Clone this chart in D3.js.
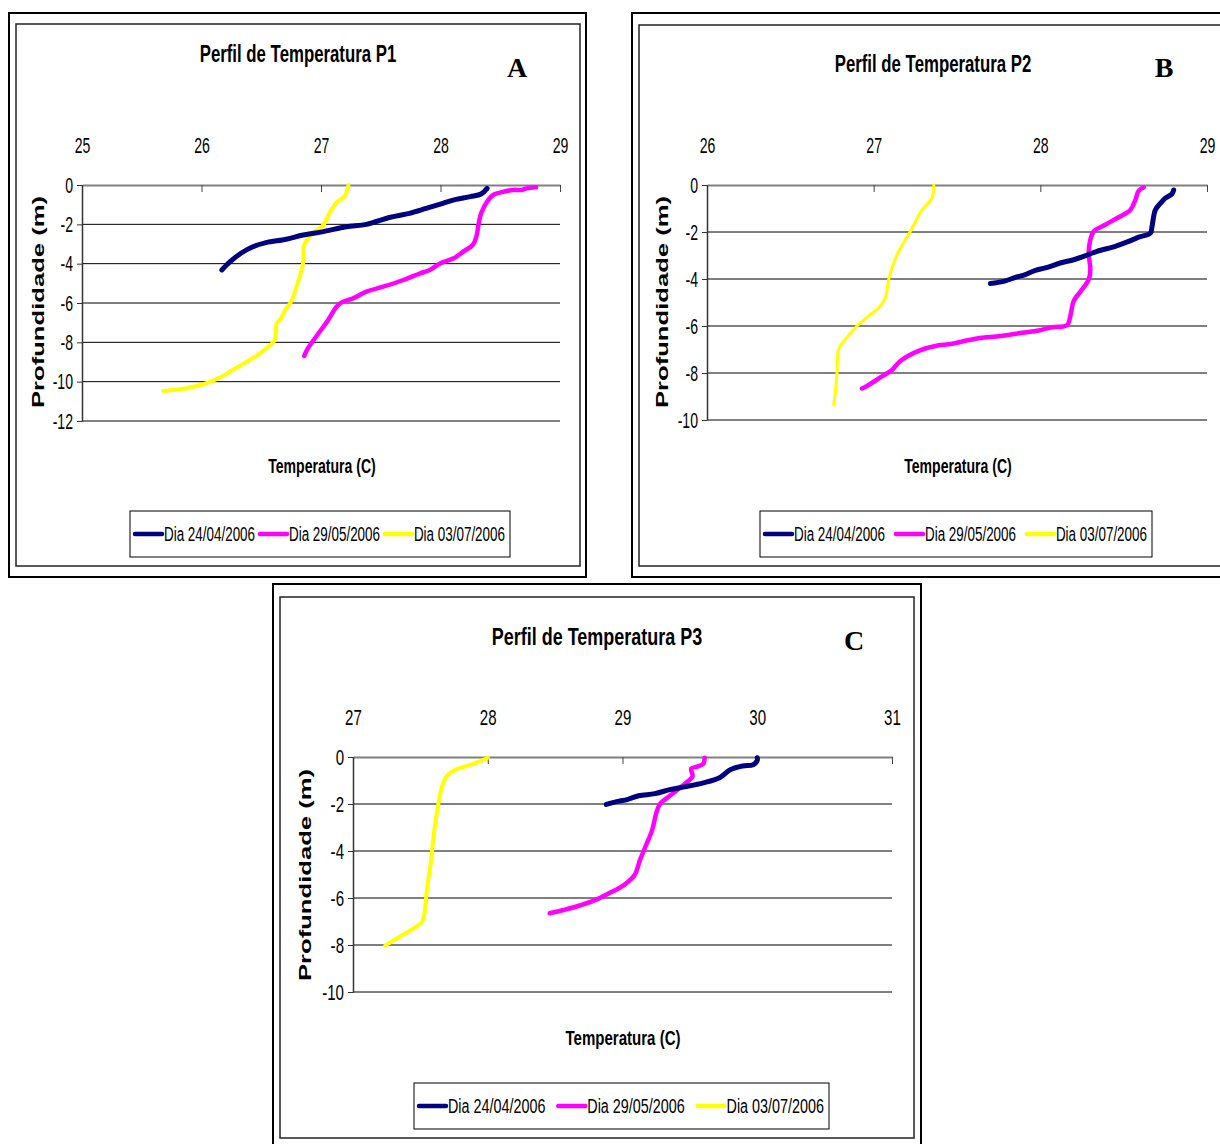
<!DOCTYPE html>
<html><head><meta charset="utf-8">
<script src="https://cdn.jsdelivr.net/npm/d3@7"></script>
<style>body{margin:0;background:#fff}</style>
</head><body>
<svg id="chart" width="1220" height="1144" xmlns="http://www.w3.org/2000/svg"></svg>
<script>
// ---------- DATA ----------
const seriesNames = ["Dia 24/04/2006", "Dia 29/05/2006", "Dia 03/07/2006"];
const seriesColors = ["#000080", "#FF00FF", "#FFFF00"];
const chartTitles = ["Perfil de Temperatura P1", "Perfil de Temperatura P2", "Perfil de Temperatura P3"];
const panelLetters = ["A", "B", "C"];
const xAxisTitle = "Temperatura (C)";
const yAxisTitle = "Profundidade (m)";
const p1TempTicks = [25, 26, 27, 28, 29];
const p1DepthTicks = [0, -2, -4, -6, -8, -10, -12];
const p2TempTicks = [26, 27, 28, 29];
const p2DepthTicks = [0, -2, -4, -6, -8, -10];
const p3TempTicks = [27, 28, 29, 30, 31];
const p3DepthTicks = [0, -2, -4, -6, -8, -10];

// [temperature, depth]
const p1Dia2404 = [[26.17,-4.32],[26.24,-3.90],[26.33,-3.47],[26.43,-3.14],[26.54,-2.93],[26.71,-2.76],[26.85,-2.54],[27.02,-2.37],[27.21,-2.12],[27.38,-2.00],[27.58,-1.64],[27.74,-1.44],[27.88,-1.19],[28.02,-0.93],[28.13,-0.73],[28.25,-0.59],[28.34,-0.46],[28.39,-0.17]];
const p1Dia2905 = [[26.86,-8.69],[26.89,-8.31],[26.98,-7.54],[27.06,-6.86],[27.13,-6.19],[27.17,-5.98],[27.27,-5.76],[27.38,-5.42],[27.52,-5.17],[27.69,-4.83],[27.83,-4.49],[27.91,-4.32],[28.00,-3.98],[28.11,-3.73],[28.19,-3.39],[28.27,-3.05],[28.30,-2.63],[28.32,-1.95],[28.34,-1.44],[28.40,-0.76],[28.44,-0.51],[28.53,-0.34],[28.61,-0.25],[28.68,-0.25],[28.72,-0.17],[28.80,-0.12]];
const p1Dia0307 = [[25.68,-10.47],[25.82,-10.39],[25.96,-10.22],[26.04,-10.08],[26.15,-9.80],[26.26,-9.41],[26.38,-8.98],[26.46,-8.69],[26.54,-8.31],[26.61,-7.92],[26.63,-7.03],[26.66,-6.83],[26.70,-6.36],[26.75,-5.93],[26.80,-5.08],[26.85,-3.98],[26.86,-3.05],[26.93,-2.46],[27.02,-2.03],[27.07,-1.44],[27.13,-0.90],[27.20,-0.56],[27.22,-0.25],[27.23,0.00]];

const p2Dia2404 = [[27.70,-4.19],[27.78,-4.10],[27.85,-3.93],[27.91,-3.81],[27.97,-3.63],[28.03,-3.53],[28.12,-3.32],[28.20,-3.18],[28.26,-3.04],[28.34,-2.82],[28.45,-2.61],[28.53,-2.40],[28.59,-2.22],[28.66,-2.05],[28.67,-1.77],[28.69,-1.06],[28.72,-0.78],[28.75,-0.56],[28.79,-0.38],[28.80,-0.21]];
const p2Dia2905 = [[26.93,-8.66],[26.96,-8.55],[27.04,-8.19],[27.11,-7.87],[27.16,-7.49],[27.27,-7.06],[27.39,-6.82],[27.45,-6.78],[27.62,-6.53],[27.76,-6.43],[27.89,-6.29],[27.99,-6.19],[28.07,-6.05],[28.16,-5.97],[28.18,-5.58],[28.20,-4.94],[28.25,-4.45],[28.29,-4.03],[28.30,-3.60],[28.29,-2.90],[28.30,-2.33],[28.32,-1.98],[28.39,-1.69],[28.47,-1.37],[28.54,-1.06],[28.57,-0.64],[28.59,-0.25],[28.62,-0.10]];
const p2Dia0307 = [[26.76,-9.36],[26.77,-8.83],[26.78,-7.98],[26.79,-6.99],[26.83,-6.57],[26.90,-6.00],[26.98,-5.51],[27.03,-5.23],[27.07,-4.80],[27.09,-4.03],[27.14,-2.97],[27.22,-1.98],[27.29,-1.06],[27.35,-0.56],[27.36,-0.21],[27.36,0.00]];

const p3Dia2404 = [[28.88,-2.02],[28.95,-1.91],[29.04,-1.80],[29.12,-1.65],[29.24,-1.56],[29.35,-1.39],[29.46,-1.27],[29.60,-1.10],[29.72,-0.88],[29.80,-0.54],[29.89,-0.38],[29.97,-0.33],[30.00,-0.14],[30.00,-0.03]];
const p3Dia2905 = [[28.46,-6.65],[28.56,-6.51],[28.67,-6.34],[28.80,-6.08],[28.90,-5.80],[29.01,-5.45],[29.09,-5.02],[29.13,-4.38],[29.17,-3.82],[29.22,-3.11],[29.25,-2.40],[29.28,-1.98],[29.34,-1.70],[29.42,-1.34],[29.48,-1.06],[29.52,-0.82],[29.51,-0.50],[29.56,-0.40],[29.60,-0.28],[29.61,-0.03]];
const p3Dia0307 = [[27.24,-8.02],[27.34,-7.67],[27.43,-7.36],[27.51,-7.04],[27.53,-6.65],[27.55,-5.59],[27.58,-4.38],[27.60,-3.25],[27.63,-2.12],[27.66,-1.27],[27.70,-0.78],[27.75,-0.57],[27.82,-0.42],[27.90,-0.28],[27.96,-0.14],[28.00,-0.03]];

// ---------- LAYOUT ----------
const panels = [
  { outer:[9,13,586,577], inner:[16,24,580,566], px:[82,560], py:[185,421],
    xTicks:p1TempTicks, yTicks:p1DepthTicks, series:[p1Dia2404,p1Dia2905,p1Dia0307],
    title:[298,62], letter:[517,77], xTitle:[322,473], yTitle:[38,302], legend:[130,511,380,46], s:1.0, yw:[5,4.5,4] },
  { outer:[632,13,1250,577], inner:[639,25,1243,566], px:[707,1207], py:[185,420],
    xTicks:p2TempTicks, yTicks:p2DepthTicks, series:[p2Dia2404,p2Dia2905,p2Dia0307],
    title:[933,72], letter:[1164,77], xTitle:[958,473], yTitle:[662,302], legend:[760,511,392,46], s:1.0, yw:[5,4.5,3] },
  { outer:[273,584,921,1160], inner:[280,597,914,1138], px:[353,892], py:[757,992],
    xTicks:p3TempTicks, yTicks:p3DepthTicks, series:[p3Dia2404,p3Dia2905,p3Dia0307],
    title:[597,645], letter:[854,650], xTitle:[623,1045], yTitle:[305,875], legend:[414,1083,415,46], s:1.07, yw:[5,4.5,4] }
];

const FONT = "'Liberation Sans', Arial, sans-serif";
const SERIF = "'Liberation Serif', 'Times New Roman', serif";
const svg = d3.select("#chart");
const fmt = d => String(d);

function squeeze(sel, k, x) {
  sel.attr("transform", `scale(${k},1)`).attr("x", (x||0)/k);
}

panels.forEach((P, pi) => {
  const g = svg.append("g");
  // frames
  const [ox0, oy0, ox1, oy1] = P.outer, [ix0, iy0, ix1, iy1] = P.inner;
  g.append("rect").attr("x", ox0).attr("y", oy0).attr("width", ox1-ox0).attr("height", oy1-oy0)
    .attr("fill", "#fff").attr("stroke", "#000").attr("stroke-width", 2);
  g.append("rect").attr("x", ix0).attr("y", iy0).attr("width", ix1-ix0).attr("height", iy1-iy0)
    .attr("fill", "none").attr("stroke", "#222").attr("stroke-width", 1.5);

  const x = d3.scaleLinear().domain(d3.extent(P.xTicks)).range(P.px);
  const y = d3.scaleLinear().domain([0, d3.min(P.yTicks)]).range(P.py);

  // gridlines
  g.append("g").selectAll("line").data(P.yTicks.filter(v => v !== 0)).join("line")
    .attr("x1", P.px[0]).attr("x2", P.px[1]).attr("y1", d => y(d)).attr("y2", d => y(d))
    .attr("stroke", "#000").attr("stroke-width", 1);

  const k = 0.64 * P.s;
  // top axis
  const xa = g.append("g").attr("transform", `translate(0,${P.py[0]})`)
    .call(d3.axisTop(x).tickValues(P.xTicks).tickSizeInner(-7).tickSizeOuter(0).tickPadding(32).tickFormat(fmt));
  xa.select(".domain").attr("stroke", "#808080").attr("stroke-width", 2);
  xa.selectAll(".tick line").attr("stroke", "#444");
  xa.selectAll("text").attr("font-family", FONT).attr("font-size", 22).attr("fill", "#000")
    .each(function(){ squeeze(d3.select(this), k, 0); });

  // left axis
  const ya = g.append("g").attr("transform", `translate(${P.px[0]},0)`)
    .call(d3.axisLeft(y).tickValues(P.yTicks).tickSizeInner(5).tickSizeOuter(0).tickPadding(4).tickFormat(fmt));
  ya.select(".domain").attr("stroke", "#333").attr("stroke-width", 1.5);
  ya.selectAll(".tick line").attr("stroke", "#333");
  ya.selectAll("text").attr("font-family", FONT).attr("font-size", 22).attr("fill", "#000")
    .each(function(){ squeeze(d3.select(this), k, -9); });

  // series
  const line = d3.line().x(d => x(d[0])).y(d => y(d[1])).curve(d3.curveCatmullRom.alpha(0.5));
  [2, 1, 0].forEach(si => {
    g.append("path").datum(P.series[si]).attr("d", line)
      .attr("fill", "none").attr("stroke", seriesColors[si]).attr("stroke-width", P.yw[si])
      .attr("stroke-linejoin", "round").attr("stroke-linecap", "round");
  });

  // titles
  const t = g.append("text").attr("font-family", FONT).attr("font-weight", "bold").attr("font-size", 24)
    .attr("text-anchor", "middle").text(chartTitles[pi]);
  t.attr("transform", `translate(${P.title[0]},${P.title[1]}) scale(${0.70*P.s},1)`);
  g.append("text").attr("x", P.letter[0]).attr("y", P.letter[1]).attr("font-family", SERIF)
    .attr("font-weight", "bold").attr("font-size", 28).attr("text-anchor", "middle").text(panelLetters[pi]);
  g.append("text").attr("font-family", FONT).attr("font-weight", "bold").attr("font-size", 21)
    .attr("text-anchor", "middle").text(xAxisTitle)
    .attr("transform", `translate(${P.xTitle[0]},${P.xTitle[1]}) scale(${0.67*P.s},1)`);
  g.append("text").attr("font-family", FONT).attr("font-weight", "bold").attr("font-size", 16)
    .attr("text-anchor", "middle").attr("dy", "0.35em")
    .attr("textLength", 212).attr("lengthAdjust", "spacingAndGlyphs")
    .attr("transform", `translate(${P.yTitle[0]},${P.yTitle[1]}) rotate(-90)`).text(yAxisTitle);

  // legend
  const [lx, ly, lw, lh] = P.legend;
  g.append("rect").attr("x", lx).attr("y", ly).attr("width", lw).attr("height", lh)
    .attr("fill", "#fff").attr("stroke", "#000").attr("stroke-width", 1);
  const lg = g.append("g");
  const items = seriesNames.map((n, i) => {
    const it = lg.append("g");
    it.append("line").attr("x1", 0).attr("x2", 27).attr("y1", 0).attr("y2", 0)
      .attr("stroke", seriesColors[i]).attr("stroke-width", 4.5).attr("stroke-linecap", "round");
    const tx = it.append("text").attr("font-family", FONT).attr("font-size", 21).attr("dy", "0.35em").text(n);
    squeeze(tx, k, 29);
    const w = 29 + tx.node().getComputedTextLength() * k;
    return { it, w };
  });
  const total = d3.sum(items, d => d.w);
  const gap = (lw - 10 - total) / 2;
  let cx = lx + 5;
  items.forEach(d => {
    d.it.attr("transform", `translate(${cx},${ly + lh/2})`);
    cx += d.w + gap;
  });
});
</script>
</body></html>
